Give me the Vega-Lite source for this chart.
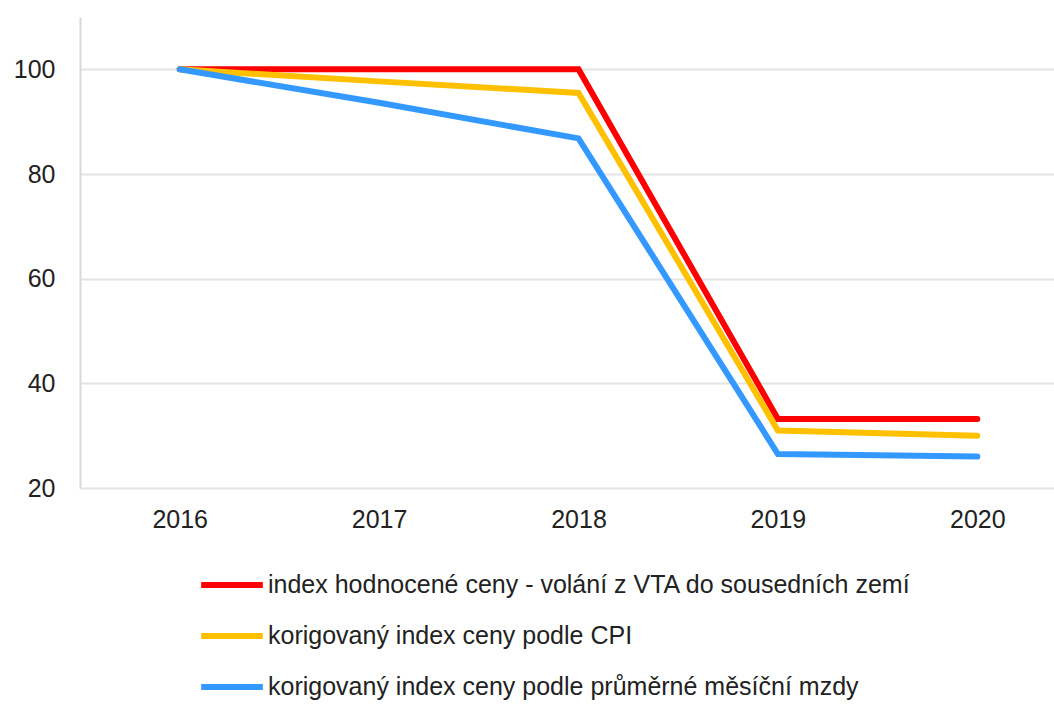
{
  "$schema": "https://vega.github.io/schema/vega-lite/v6.json",
  "width": 997,
  "height": 471,
  "autosize": {"type": "none"},
  "padding": {"left": 80, "top": 17, "right": -23, "bottom": 216},
  "background": "white",
  "config": {
    "view": {"stroke": null},
    "font": "Liberation Sans"
  },
  "data": {
    "values": [
      {"rok": "2016", "serie": "index hodnocené ceny - volání z VTA do sousedních zemí", "hodnota": 100},
      {"rok": "2017", "serie": "index hodnocené ceny - volání z VTA do sousedních zemí", "hodnota": 100},
      {"rok": "2018", "serie": "index hodnocené ceny - volání z VTA do sousedních zemí", "hodnota": 100},
      {"rok": "2019", "serie": "index hodnocené ceny - volání z VTA do sousedních zemí", "hodnota": 33.2},
      {"rok": "2020", "serie": "index hodnocené ceny - volání z VTA do sousedních zemí", "hodnota": 33.2},
      {"rok": "2016", "serie": "korigovaný index ceny podle CPI", "hodnota": 100},
      {"rok": "2017", "serie": "korigovaný index ceny podle CPI", "hodnota": 97.7},
      {"rok": "2018", "serie": "korigovaný index ceny podle CPI", "hodnota": 95.5},
      {"rok": "2019", "serie": "korigovaný index ceny podle CPI", "hodnota": 31.0},
      {"rok": "2020", "serie": "korigovaný index ceny podle CPI", "hodnota": 30.0},
      {"rok": "2016", "serie": "korigovaný index ceny podle průměrné měsíční mzdy", "hodnota": 100},
      {"rok": "2017", "serie": "korigovaný index ceny podle průměrné měsíční mzdy", "hodnota": 93.6},
      {"rok": "2018", "serie": "korigovaný index ceny podle průměrné měsíční mzdy", "hodnota": 86.8},
      {"rok": "2019", "serie": "korigovaný index ceny podle průměrné měsíční mzdy", "hodnota": 26.5},
      {"rok": "2020", "serie": "korigovaný index ceny podle průměrné měsíční mzdy", "hodnota": 26.0}
    ]
  },
  "mark": {"type": "line", "strokeWidth": 6, "strokeCap": "round", "strokeJoin": "miter"},
  "encoding": {
    "x": {
      "field": "rok", "type": "ordinal", "title": null,
      "scale": {"type": "point", "padding": 0.5},
      "axis": {
        "labelAngle": 0, "labelFontSize": 25, "labelColor": "#222222", "labelPadding": 19,
        "ticks": false, "domain": false, "grid": false
      }
    },
    "y": {
      "field": "hodnota", "type": "quantitative", "title": null,
      "scale": {"domain": [20, 110], "nice": false, "zero": false},
      "axis": {
        "values": [20, 40, 60, 80, 100],
        "labelFontSize": 25, "labelColor": "#222222", "labelPadding": 25,
        "ticks": false, "domainColor": "#d9d9d9", "domainWidth": 2,
        "gridColor": "#e3e3e3", "gridWidth": 2
      }
    },
    "color": {
      "field": "serie", "type": "nominal", "title": null,
      "scale": {
        "domain": [
          "index hodnocené ceny - volání z VTA do sousedních zemí",
          "korigovaný index ceny podle CPI",
          "korigovaný index ceny podle průměrné měsíční mzdy"
        ],
        "range": ["#ff0000", "#ffc000", "#3399ff"]
      },
      "legend": {
        "orient": "none", "legendX": 118, "legendY": 534,
        "symbolType": "stroke", "symbolSize": 3800, "symbolStrokeWidth": 6,
        "labelFontSize": 25, "labelColor": "#222222", "labelOffset": 2,
        "labelLimit": 900, "rowPadding": 4
      }
    }
  }
}
